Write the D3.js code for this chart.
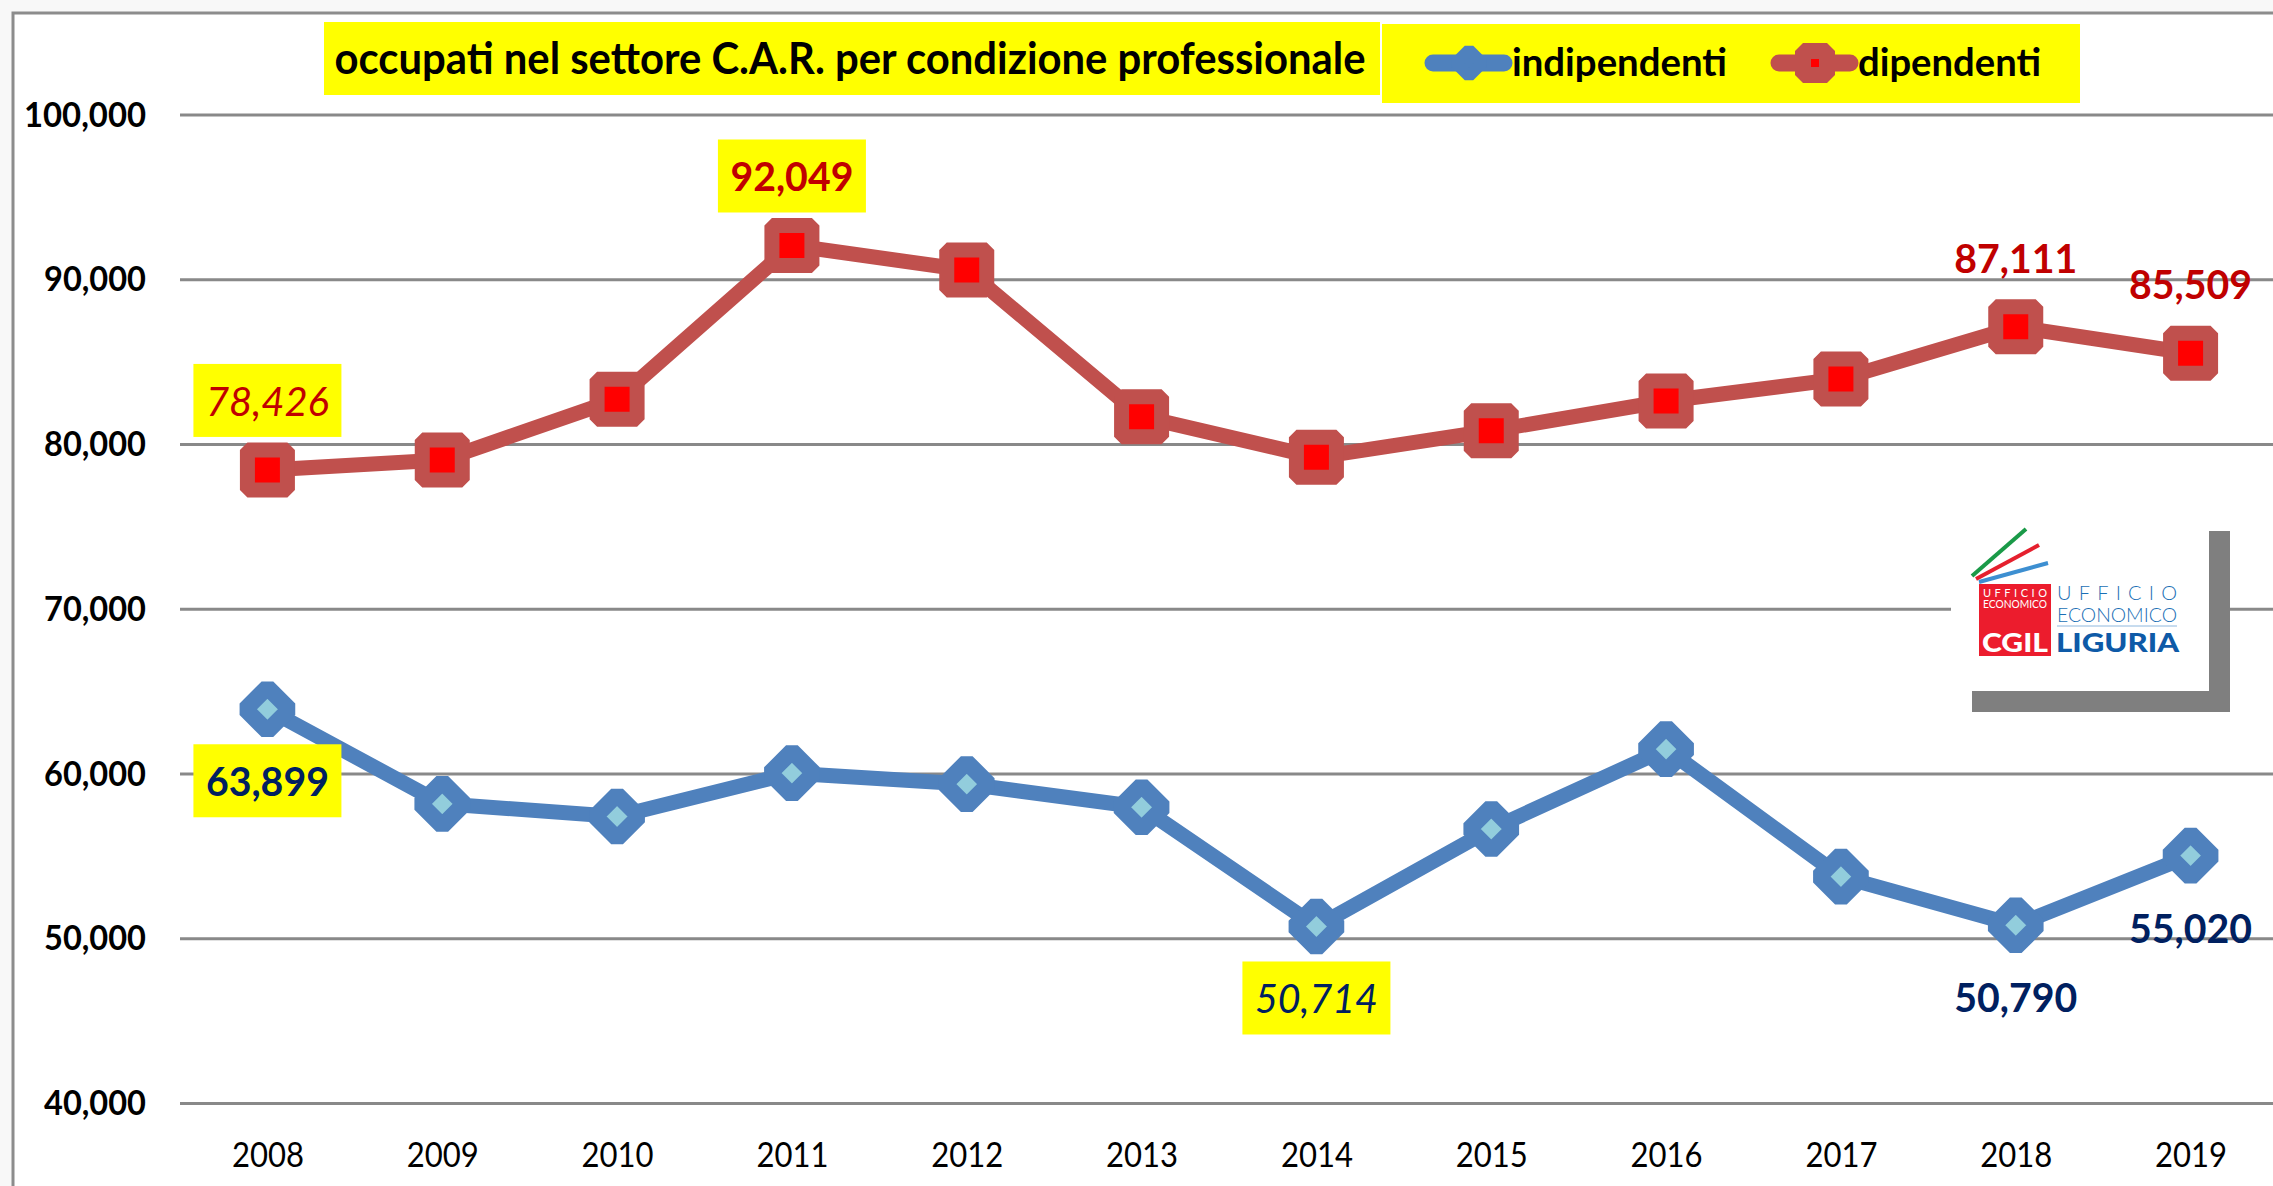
<!DOCTYPE html>
<html lang="it">
<head>
<meta charset="UTF-8">
<title>occupati nel settore C.A.R.</title>
<style>
  html, body { margin: 0; padding: 0; background: #f8f8f8; }
  svg { display: block; font-family: Lato, "Open Sans", sans-serif; }
</style>
</head>
<body>
<svg id="chart" width="2273" height="1186"></svg>
<script src="https://d3js.org/d3.v7.min.js"></script>
<script>
// data
const years = ["2008", "2009", "2010", "2011", "2012", "2013", "2014", "2015", "2016", "2017", "2018", "2019"];
const indipendenti = [63899, 58160, 57390, 60020, 59360, 57950, 50714, 56630, 61480, 53740, 50790, 55020];
const dipendenti = [78426, 79030, 82710, 92049, 90560, 81660, 79190, 80810, 82610, 83950, 87111, 85509];
const yTicks = [40000, 50000, 60000, 70000, 80000, 90000, 100000];
const seriesNames = ["indipendenti", "dipendenti"];
const titleText = "occupati nel settore C.A.R. per condizione professionale";

// points that carry a value label
const indLabels = [
    { year: "2008", boxed: true, italic: false },
    { year: "2014", boxed: true, italic: true },
    { year: "2018", boxed: false, italic: false },
    { year: "2019", boxed: false, italic: false }
];
const dipLabels = [
    { year: "2008", boxed: true, italic: true },
    { year: "2011", boxed: true, italic: false },
    { year: "2018", boxed: false, italic: false },
    { year: "2019", boxed: false, italic: false }
];

const blue = "#4F81BD", blueFill = "#92CDDC", navy = "#002060";
const red = "#C0504D", redFill = "#FF0000", darkRed = "#C00000";
const yellow = "#FFFF00";

const svg = d3.select("#chart");
const fmt = d3.format(",");

const plot = { left: 180, right: 2278, top: 114.5, bottom: 1103 };

const x = d3.scalePoint()
    .domain(years)
    .range([plot.left, plot.right])
    .padding(0.5);

const y = d3.scaleLinear()
    .domain([40000, 100000])
    .range([plot.bottom, plot.top]);

// chart frame
svg.append("rect")
    .attr("x", 13).attr("y", 13)
    .attr("width", 2300).attr("height", 1200)
    .attr("fill", "#fff")
    .attr("stroke", "#8c8c8c")
    .attr("stroke-width", 3);

// y axis + gridlines
svg.append("g")
    .attr("transform", `translate(${plot.left},0)`)
    .call(d3.axisLeft(y).tickValues(yTicks).tickSize(-(plot.right - plot.left)).tickPadding(34).tickFormat(fmt))
    .call(g => g.select(".domain").remove())
    .call(g => g.attr("font-family", null))
    .call(g => g.selectAll(".tick line").attr("stroke", "#898989").attr("stroke-width", 3))
    .call(g => g.selectAll(".tick text")
        .attr("font-size", 34)
        .attr("font-weight", 700)
        .attr("fill", "#000")
        .attr("textLength", 122)
        .attr("lengthAdjust", "spacingAndGlyphs")
        .attr("dy", "0.34em"));
// the narrower labels keep their own width
svg.selectAll(".tick text").filter(d => d < 100000).attr("textLength", 102);

// x axis labels
svg.append("g")
    .attr("transform", `translate(0,${plot.bottom})`)
    .call(d3.axisBottom(x).tickSize(0).tickPadding(40))
    .call(g => g.select(".domain").remove())
    .call(g => g.attr("font-family", null))
    .call(g => g.selectAll(".tick text")
        .attr("font-size", 34)
        .attr("fill", "#000")
        .attr("textLength", 72)
        .attr("lengthAdjust", "spacingAndGlyphs"));

// logo (CGIL Liguria - ufficio economico)
const logo = svg.append("g").attr("transform", "translate(1951,510)");
logo.append("rect").attr("x", 258).attr("y", 21).attr("width", 21).attr("height", 181).attr("fill", "#7f7f7f");
logo.append("rect").attr("x", 21).attr("y", 181).attr("width", 258).attr("height", 21).attr("fill", "#7f7f7f");
logo.append("rect").attr("width", 258).attr("height", 181).attr("fill", "#fff");
logo.append("line").attr("x1", 21).attr("y1", 66).attr("x2", 75).attr("y2", 19).attr("stroke", "#1a9a48").attr("stroke-width", 4);
logo.append("line").attr("x1", 25).attr("y1", 69).attr("x2", 88).attr("y2", 35).attr("stroke", "#e5202e").attr("stroke-width", 4);
logo.append("line").attr("x1", 28).attr("y1", 72).attr("x2", 97).attr("y2", 53).attr("stroke", "#3d8fd1").attr("stroke-width", 4);
logo.append("rect").attr("x", 28).attr("y", 74).attr("width", 72).attr("height", 72).attr("fill", "#ec1c2d");
logo.append("text").attr("x", 32).attr("y", 87).attr("font-size", 11).attr("fill", "#fff")
    .attr("textLength", 64).attr("lengthAdjust", "spacing").text("UFFICIO");
logo.append("text").attr("x", 32).attr("y", 98).attr("font-size", 11).attr("fill", "#fff")
    .attr("textLength", 64).attr("lengthAdjust", "spacingAndGlyphs").text("ECONOMICO");
logo.append("text").attr("x", 31).attr("y", 142).attr("font-size", 27).attr("font-weight", 900).attr("fill", "#fff")
    .attr("textLength", 66).attr("lengthAdjust", "spacingAndGlyphs").text("CGIL");
logo.append("text").attr("x", 106).attr("y", 90).attr("font-size", 20).attr("font-weight", 300).attr("fill", "#1b6fb5")
    .attr("textLength", 120).attr("lengthAdjust", "spacing").text("UFFICIO");
logo.append("text").attr("x", 106).attr("y", 112).attr("font-size", 20).attr("font-weight", 300).attr("fill", "#1b6fb5")
    .attr("textLength", 120).attr("lengthAdjust", "spacingAndGlyphs").text("ECONOMICO");
logo.append("line").attr("x1", 106).attr("y1", 116).attr("x2", 226).attr("y2", 116).attr("stroke", "#8fb8de").attr("stroke-width", 1);
logo.append("text").attr("x", 105).attr("y", 142).attr("font-size", 27).attr("font-weight", 900).attr("fill", "#0e5aa7")
    .attr("textLength", 123).attr("lengthAdjust", "spacingAndGlyphs").text("LIGURIA");

// lines
const line = d3.line()
    .x((d, i) => x(years[i]))
    .y(d => y(d));

svg.append("path")
    .datum(indipendenti)
    .attr("d", line)
    .attr("fill", "none")
    .attr("stroke", blue)
    .attr("stroke-width", 15)
    .attr("stroke-linejoin", "round");

svg.append("path")
    .datum(dipendenti)
    .attr("d", line)
    .attr("fill", "none")
    .attr("stroke", red)
    .attr("stroke-width", 15)
    .attr("stroke-linejoin", "round");

// markers
const diamond = r => `M0,${-r}L${r},0L0,${r}L${-r},0Z`;

svg.append("g")
    .selectAll("path")
    .data(indipendenti)
    .join("path")
    .attr("transform", (d, i) => `translate(${x(years[i])},${y(d)})`)
    .attr("d", diamond(22))
    .attr("fill", blueFill)
    .attr("stroke", blue)
    .attr("stroke-width", 16.5)
    .attr("stroke-linejoin", "bevel");

svg.append("g")
    .selectAll("rect")
    .data(dipendenti)
    .join("rect")
    .attr("x", (d, i) => x(years[i]) - 20)
    .attr("y", d => y(d) - 20)
    .attr("width", 40)
    .attr("height", 40)
    .attr("fill", redFill)
    .attr("stroke", red)
    .attr("stroke-width", 15)
    .attr("stroke-linejoin", "bevel");

// value labels
function addLabels(labels, values, color, offset) {
    labels.forEach(l => {
        const i = years.indexOf(l.year);
        const cx = x(l.year);
        const by = y(values[i]) + offset;
        const g = svg.append("g");
        const t = g.append("text")
            .attr("x", cx)
            .attr("y", by)
            .attr("text-anchor", "middle")
            .attr("font-size", 41)
            .attr("font-weight", l.italic ? 400 : 700)
            .attr("font-style", l.italic ? "italic" : "normal")
            .attr("fill", color)
            .attr("textLength", 123)
            .attr("lengthAdjust", "spacingAndGlyphs")
            .text(fmt(values[i]));
        if (l.boxed) {
            const w = 148;
            g.insert("rect", "text")
                .attr("x", cx - w / 2)
                .attr("y", by - 52)
                .attr("width", w)
                .attr("height", 73)
                .attr("fill", yellow);
        }
    });
}
addLabels(dipLabels, dipendenti, darkRed, -54);
addLabels(indLabels, indipendenti, navy, 87);

// title
svg.append("rect").attr("x", 324).attr("y", 22).attr("width", 1056).attr("height", 73).attr("fill", yellow);
svg.append("text")
    .attr("x", 334.5).attr("y", 74)
    .attr("font-size", 43).attr("font-weight", 700).attr("fill", "#000")
    .attr("textLength", 1031).attr("lengthAdjust", "spacingAndGlyphs")
    .text(titleText);

// legend
const legend = svg.append("g");
legend.append("rect").attr("x", 1382).attr("y", 24).attr("width", 698).attr("height", 79).attr("fill", yellow);

const legendItems = [
    { name: seriesNames[0], x0: 1425, width: 215, color: blue },
    { name: seriesNames[1], x0: 1771, width: 183, color: red }
];
legendItems.forEach((it, k) => {
    legend.append("line")
        .attr("x1", it.x0 + 8).attr("x2", it.x0 + 79)
        .attr("y1", 63).attr("y2", 63)
        .attr("stroke", it.color).attr("stroke-width", 17).attr("stroke-linecap", "round");
    const mx = it.x0 + 44;
    if (k === 0) {
        legend.append("path")
            .attr("transform", `translate(${mx},63)`)
            .attr("d", diamond(13))
            .attr("fill", blue).attr("stroke", blue).attr("stroke-width", 12).attr("stroke-linejoin", "bevel");
    } else {
        legend.append("rect")
            .attr("x", mx - 12).attr("y", 63 - 12).attr("width", 24).attr("height", 24)
            .attr("fill", redFill).attr("stroke", red).attr("stroke-width", 16).attr("stroke-linejoin", "bevel");
    }
    legend.append("text")
        .attr("x", it.x0 + 87).attr("y", 76)
        .attr("font-size", 39).attr("font-weight", 700).attr("fill", "#000")
        .attr("textLength", it.width).attr("lengthAdjust", "spacingAndGlyphs")
        .text(it.name);
});
</script>
</body>
</html>
